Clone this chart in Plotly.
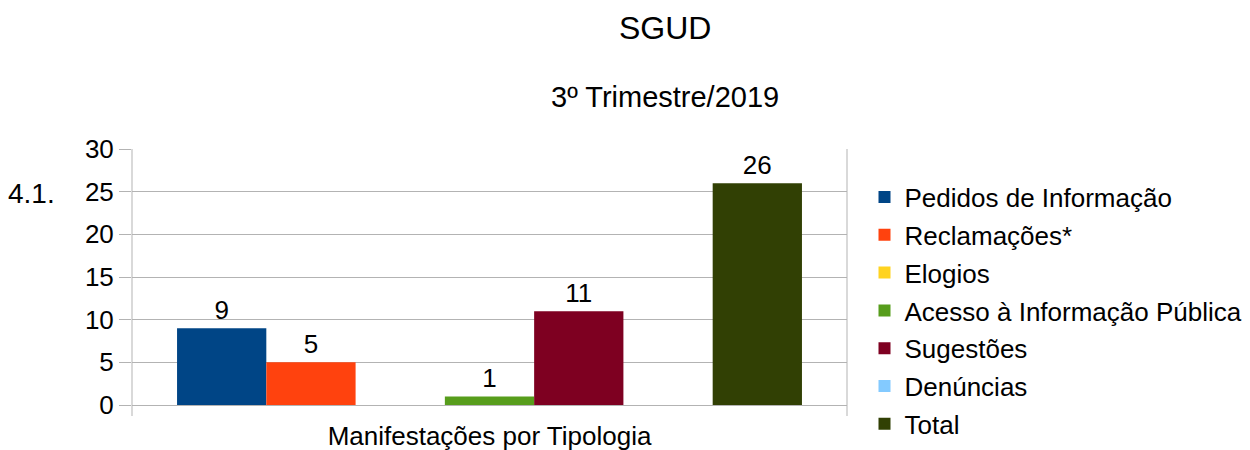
import plotly.graph_objects as go

category = ["Manifestações por Tipologia"]
series_names = ["Pedidos de Informação", "Reclamações*", "Elogios",
                "Acesso à Informação Pública", "Sugestões", "Denúncias", "Total"]
series_values = [9, 5, 0, 1, 11, 0, 26]
series_colors = ["#004586", "#ff420e", "#ffd320", "#579d1c", "#7e0021", "#83caff", "#314004"]
y_ticks = [0, 5, 10, 15, 20, 25, 30]

FONT = "Liberation Sans, Arial, sans-serif"
GRID = "#b3b3b3"

fig = go.Figure()
for i, (name, val, col) in enumerate(zip(series_names, series_values, series_colors)):
    fig.add_trace(go.Bar(
        x=category, y=[val], name=name, marker=dict(color=col, line=dict(width=0)),
        text=[str(val) if val else ""], textposition="outside",
        textfont=dict(size=26, color="black", family=FONT),
        cliponaxis=False, legendgroup=f"g{i}",
    ))

fig.update_layout(
    width=1250, height=450,
    margin=dict(l=132, r=403, t=149, b=45, autoexpand=False),
    paper_bgcolor="white", plot_bgcolor="white",
    font=dict(family=FONT, size=26, color="black"),
    barmode="group", bargap=0.126, bargroupgap=0,
    showlegend=True,
    legend=dict(x=(864.5 - 132) / 715, xanchor="left", y=0.904, yanchor="top",
                font=dict(size=26, family=FONT, color="black"),
                tracegroupgap=1, bgcolor="rgba(0,0,0,0)", maxheight=400),
    annotations=[
        dict(text="SGUD", xref="paper", yref="paper", x=(665 - 132) / 715, y=(405 - 28) / 256,
             xanchor="center", yanchor="middle", showarrow=False, font=dict(size=32)),
        dict(text="3º Trimestre/2019", xref="paper", yref="paper", x=(665 - 132) / 715,
             y=(405 - 97) / 256, xanchor="center", yanchor="middle", showarrow=False,
             font=dict(size=29)),
        dict(text="4.1.", xref="paper", yref="paper", x=(6 - 132) / 715, y=(405 - 193) / 256,
             xanchor="left", yanchor="middle", showarrow=False, font=dict(size=28)),
    ],
    shapes=[
        dict(type="line", xref="paper", yref="paper", x0=0, x1=0, y0=-11 / 256, y1=1,
             line=dict(color=GRID, width=1)),
        dict(type="line", xref="paper", yref="paper", x0=1, x1=1, y0=-11 / 256, y1=1,
             line=dict(color=GRID, width=1)),
    ],
)
fig.update_yaxes(range=[0, 30], tickvals=y_ticks, showgrid=True, gridcolor=GRID, gridwidth=1,
                 ticks="outside", ticklen=12, tickcolor=GRID, zeroline=False,
                 showline=False, tickfont=dict(size=26))
fig.update_xaxes(showgrid=False, ticks="", showline=True, linecolor=GRID, linewidth=1,
                 tickfont=dict(size=26), ticklabelstandoff=8)

fig.write_html("out.html", config={"displayModeBar": False},
               post_script="document.body.style.margin='0';document.body.style.overflow='hidden';")
